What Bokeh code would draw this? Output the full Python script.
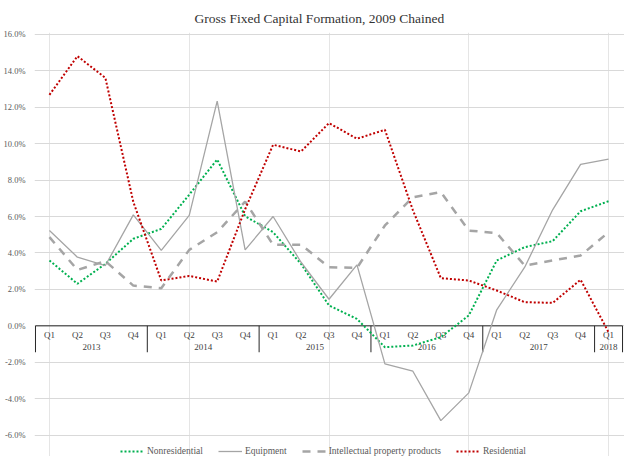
from bokeh.plotting import figure
from bokeh.models import Range1d, FixedTicker, PrintfTickFormatter, Legend, LegendItem
from bokeh.core.properties import value
from bokeh.embed import file_html
from bokeh.resources import INLINE

FONT = "Liberation Serif"

# ---- data ----
quarters = ["Q1", "Q2", "Q3", "Q4"] * 5 + ["Q1"]
years = ["2013", "2014", "2015", "2016", "2017", "2018"]
year_len = [4, 4, 4, 4, 4, 1]

nonresidential = [3.59, 2.31, 3.40, 4.78, 5.32, 7.20, 9.13, 6.02, 5.14, 3.40, 1.12,
                  0.38, -1.17, -1.08, -0.62, 0.57, 3.59, 4.32, 4.65, 6.29, 6.84]
equipment = [5.23, 3.77, 3.31, 6.09, 4.14, 6.06, 12.33, 4.17, 6.00, 3.49, 1.46,
             3.35, -2.09, -2.49, -5.20, -3.68, 0.88, 3.22, 6.37, 8.86, 9.15]
intellectual = [4.87, 3.07, 3.55, 2.21, 2.07, 4.17, 5.14, 6.82, 4.45, 4.45, 3.22,
                3.18, 5.51, 7.06, 7.34, 5.23, 5.09, 3.31, 3.59, 3.86, 5.14]
residential = [12.68, 14.80, 13.61, 6.80, 2.49, 2.74, 2.43, 6.40, 9.94, 9.57, 11.13,
               10.27, 10.76, 6.35, 2.62, 2.49, 1.94, 1.30, 1.26, 2.53, -0.35]

y_ticks = [-6, -4, -2, 0, 2, 4, 6, 8, 10, 12, 14, 16]

# ---- layout constants ----
Y_MIN, Y_MAX = -7.17, 16.1
FRAME_H = 424
PX = FRAME_H / (Y_MAX - Y_MIN)  # pixels per percentage point

n = len(quarters)
xs = list(range(n))

p = figure(width=624, height=456, output_backend="svg", toolbar_location=None,
           x_range=Range1d(-0.535, n - 0.43), y_range=Range1d(Y_MIN, Y_MAX),
           x_axis_location=None, min_border_left=27, min_border_right=0,
           min_border_top=32, min_border_bottom=0,
           title="Gross Fixed Capital Formation, 2009 Chained")
p.outline_line_color = None
p.background_fill_color = "white"

p.title.align = "left"
p.title.offset = 160
p.title.text_font = FONT
p.title.text_font_size = "13.5px"
p.title.text_font_style = "normal"
p.title.text_color = "#333333"
p.title.standoff = 13

p.yaxis.ticker = FixedTicker(ticks=y_ticks)
p.yaxis.formatter = PrintfTickFormatter(format="%.1f%%")
p.yaxis.axis_line_color = None
p.yaxis.major_tick_line_color = None
p.yaxis.minor_tick_line_color = None
p.yaxis.major_label_text_font = FONT
p.yaxis.major_label_text_font_size = "8.5px"
p.yaxis.major_label_text_color = "#595959"
p.yaxis.major_label_standoff = 3
p.ygrid.ticker = FixedTicker(ticks=y_ticks)
p.ygrid.grid_line_color = "#d9d9d9"
p.ygrid.grid_line_width = 1

# ---- category axis drawn at y = 0 ----
bounds = [-0.5]
for L in year_len:
    bounds.append(bounds[-1] + L)
year_centers = [bounds[i] + year_len[i] / 2 for i in range(len(years))]

p.segment(x0=[bounds[0]], y0=[0], x1=[bounds[-1]], y1=[0], line_color="#262626", line_width=1)
p.segment(x0=bounds, y0=[0] * len(bounds), x1=bounds, y1=[-26.4 / PX] * len(bounds),
          line_color="#262626", line_width=1)
p.text(x=xs, y=[-8.7 / PX] * n, text=quarters, text_font=value(FONT), text_font_size="9px",
       text_align="center", text_baseline="middle", text_color="#404040")
p.text(x=year_centers, y=[-21.4 / PX] * len(years), text=years, text_font=value(FONT),
       text_font_size="9px", text_align="center", text_baseline="middle", text_color="#404040")

# ---- series ----
r1 = p.line(xs, nonresidential, line_color="#00b050", line_width=2, line_dash="2 2")
r2 = p.line(xs, equipment, line_color="#a5a5a5", line_width=1.3)
r3 = p.line(xs, intellectual, line_color="#a5a5a5", line_width=2.5, line_dash="8 7")
r4 = p.line(xs, residential, line_color="#c00000", line_width=2, line_dash="2 2")

legend = Legend(items=[LegendItem(label="Nonresidential", renderers=[r1]),
                       LegendItem(label="Equipment", renderers=[r2]),
                       LegendItem(label="Intellectual property products", renderers=[r3]),
                       LegendItem(label="Residential", renderers=[r4])],
                orientation="horizontal", location=(86, 0))
legend.background_fill_alpha = 0
legend.border_line_color = None
legend.glyph_width = 24
legend.glyph_height = 10
legend.label_height = 10
legend.label_standoff = 3
legend.spacing = 15
legend.padding = 0
legend.margin = 0
legend.label_text_font = FONT
legend.label_text_font_size = "9.5px"
legend.label_text_color = "#595959"
p.add_layout(legend)

open("out.html", "w").write(file_html(p, INLINE))
